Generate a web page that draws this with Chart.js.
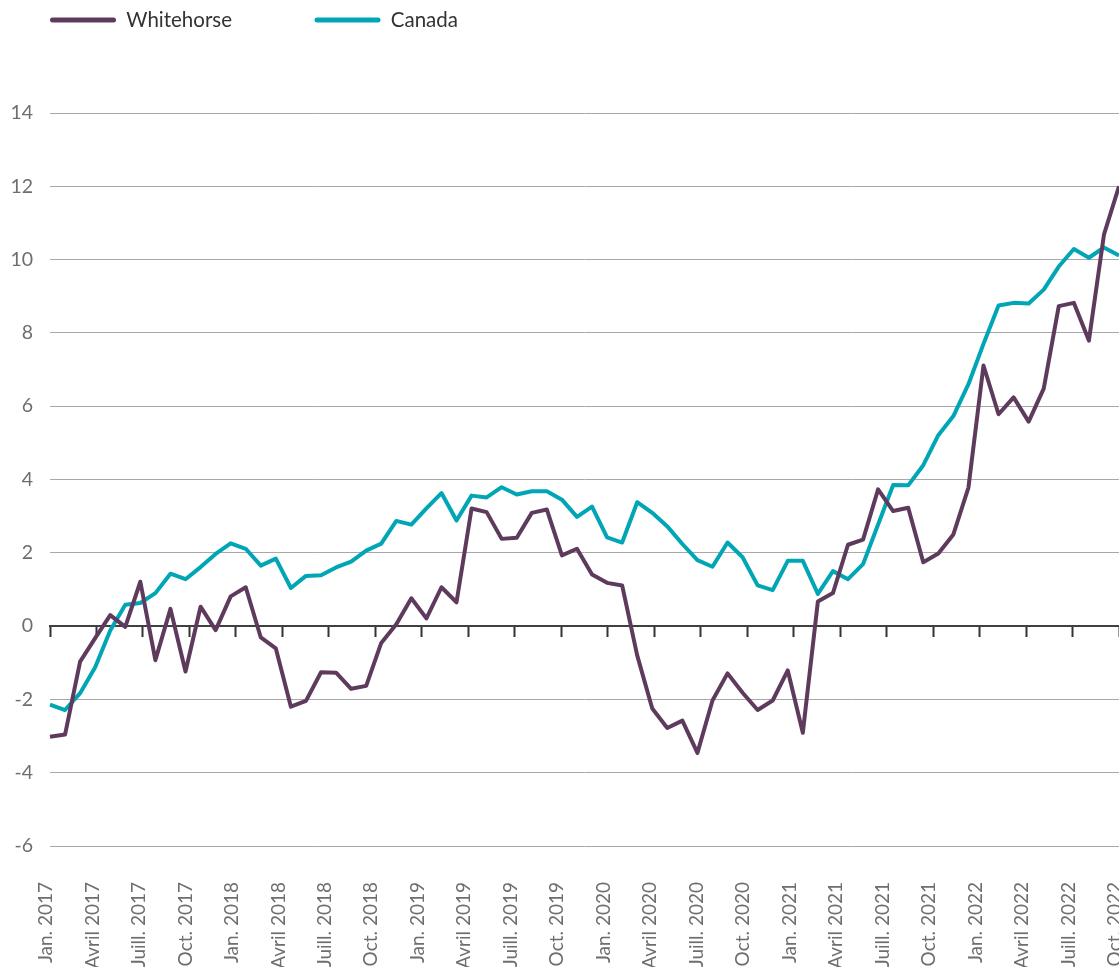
<!DOCTYPE html>
<html lang="fr">
<head>
<meta charset="utf-8">
<title>Whitehorse et Canada</title>
<script src="https://cdn.jsdelivr.net/npm/chart.js@4.4.1/dist/chart.umd.min.js"></script>
<style>
    body { margin: 0; background: #fff; }
    canvas { display: block; }
</style>
</head>
<body>
<canvas id="lineChart" width="1119" height="967"></canvas>
<script>
// data
const years = [2017, 2018, 2019, 2020, 2021, 2022];
const monthNames = ['Jan.', 'Févr.', 'Mars', 'Avril', 'Mai', 'Juin', 'Juill.', 'Août', 'Sept.', 'Oct.', 'Nov.', 'Déc.'];
const months = [];
for (let y = 0; y < years.length; y++) {
    for (let m = 0; m < monthNames.length; m++) {
        months.push(monthNames[m] + ' ' + years[y]);
    }
}

const quarterLabels = [
    'Jan. 2017', 'Avril 2017', 'Juill. 2017', 'Oct. 2017',
    'Jan. 2018', 'Avril 2018', 'Juill. 2018', 'Oct. 2018',
    'Jan. 2019', 'Avril 2019', 'Juill. 2019', 'Oct. 2019',
    'Jan. 2020', 'Avril 2020', 'Juill. 2020', 'Oct. 2020',
    'Jan. 2021', 'Avril 2021', 'Juill. 2021', 'Oct. 2021',
    'Jan. 2022', 'Avril 2022', 'Juill. 2022', 'Oct. 2022'
];

const whitehorse = [
    -3.02, -2.96, -0.97, -0.33, 0.30, -0.02, 1.21, -0.93, 0.47, -1.24,
    0.53, -0.11, 0.81, 1.06, -0.31, -0.61, -2.20, -2.04, -1.26, -1.27,
    -1.71, -1.63, -0.46, 0.05, 0.76, 0.21, 1.06, 0.65, 3.21, 3.11,
    2.38, 2.41, 3.09, 3.18, 1.93, 2.11, 1.41, 1.18, 1.11, -0.80,
    -2.25, -2.78, -2.58, -3.46, -2.03, -1.29, -1.82, -2.29, -2.03, -1.21,
    -2.91, 0.67, 0.90, 2.22, 2.36, 3.73, 3.14, 3.23, 1.74, 1.98,
    2.50, 3.78, 7.11, 5.78, 6.24, 5.58, 6.48, 8.73, 8.82, 7.79,
    10.68, 12.00
];

const canada = [
    -2.14, -2.29, -1.83, -1.12, -0.12, 0.58, 0.63, 0.90, 1.43, 1.28,
    1.61, 1.97, 2.26, 2.11, 1.65, 1.84, 1.04, 1.37, 1.39, 1.60,
    1.76, 2.06, 2.25, 2.87, 2.77, 3.21, 3.63, 2.88, 3.56, 3.51,
    3.79, 3.59, 3.68, 3.68, 3.45, 2.98, 3.26, 2.42, 2.28, 3.38,
    3.09, 2.72, 2.24, 1.80, 1.62, 2.28, 1.88, 1.11, 0.98, 1.78,
    1.78, 0.88, 1.50, 1.28, 1.69, 2.77, 3.85, 3.84, 4.39, 5.21,
    5.73, 6.60, 7.70, 8.75, 8.82, 8.80, 9.18, 9.81, 10.29, 10.05,
    10.33, 10.11
];

const yTicks = [-6, -4, -2, 0, 2, 4, 6, 8, 10, 12, 14];

const purple = '#5e3b5d';
const teal = '#00a6b5';
const tickGray = '#6e6e6e';

Chart.defaults.font.family = 'Lato, "Open Sans", sans-serif';

// legend sits higher and more to the left than chart.js puts it
const legendShift = {
    id: 'legendShift',
    afterLayout(chart) {
        chart.legend.left -= 32.5;
        chart.legend.top -= 72.75;
    }
};

const lineData = {
    labels: months,
    datasets: [{
        label: 'Whitehorse',
        data: whitehorse,
        borderColor: purple,
        backgroundColor: purple,
        borderWidth: 4,
        pointRadius: 0,
        tension: 0,
        borderJoinStyle: 'round'
    }, {
        label: 'Canada',
        data: canada,
        borderColor: teal,
        backgroundColor: teal,
        borderWidth: 4,
        pointRadius: 0,
        tension: 0,
        borderJoinStyle: 'round'
    }]
};

const config = {
    type: 'line',
    data: lineData,
    plugins: [legendShift],
    options: {
        responsive: false,
        animation: false,
        layout: { padding: 0 },
        plugins: {
            legend: {
                align: 'start',
                labels: {
                    boxWidth: 66,
                    boxHeight: 5,
                    padding: 82.5,
                    color: '#333333',
                    font: { size: 20.5 },
                    generateLabels(chart) {
                        const items = Chart.defaults.plugins.legend.labels.generateLabels(chart);
                        items.forEach(function(item) {
                            item.lineWidth = 0;
                            item.borderRadius = 2.5;
                        });
                        return items;
                    }
                }
            },
            tooltip: { enabled: true }
        },
        scales: {
            x: {
                type: 'category',
                display: false
            },
            xt: {
                type: 'category',
                labels: quarterLabels,
                position: { y: 0 },
                ticks: { display: false },
                grid: {
                    drawOnChartArea: false,
                    drawTicks: true,
                    tickLength: 10,
                    tickWidth: 2,
                    tickColor: '#333333'
                },
                border: { display: true, color: '#404040', width: 2 }
            },
            xl: {
                type: 'category',
                labels: quarterLabels,
                position: 'bottom',
                grid: { display: false },
                border: { display: false },
                ticks: {
                    autoSkip: false,
                    minRotation: 90,
                    maxRotation: 90,
                    padding: 28,
                    labelOffset: -4,
                    color: tickGray,
                    font: { size: 19 }
                },
                afterFit(scale) {
                    scale.height = 121;
                    scale.paddingLeft = 0;
                    scale.paddingRight = 0;
                }
            },
            y: {
                min: -6,
                max: 14,
                afterBuildTicks(scale) {
                    scale.ticks = yTicks.map(v => ({ value: v }));
                },
                grid: {
                    color: '#a8a8a8',
                    lineWidth: 1,
                    drawTicks: false
                },
                border: { display: false },
                ticks: {
                    padding: 17,
                    color: tickGray,
                    font: { size: 19.5 }
                },
                afterFit(scale) {
                    scale.width = 50;
                }
            }
        }
    }
};

// render init block
const line = new Chart(
    document.getElementById('lineChart'),
    config
);
</script>
</body>
</html>
